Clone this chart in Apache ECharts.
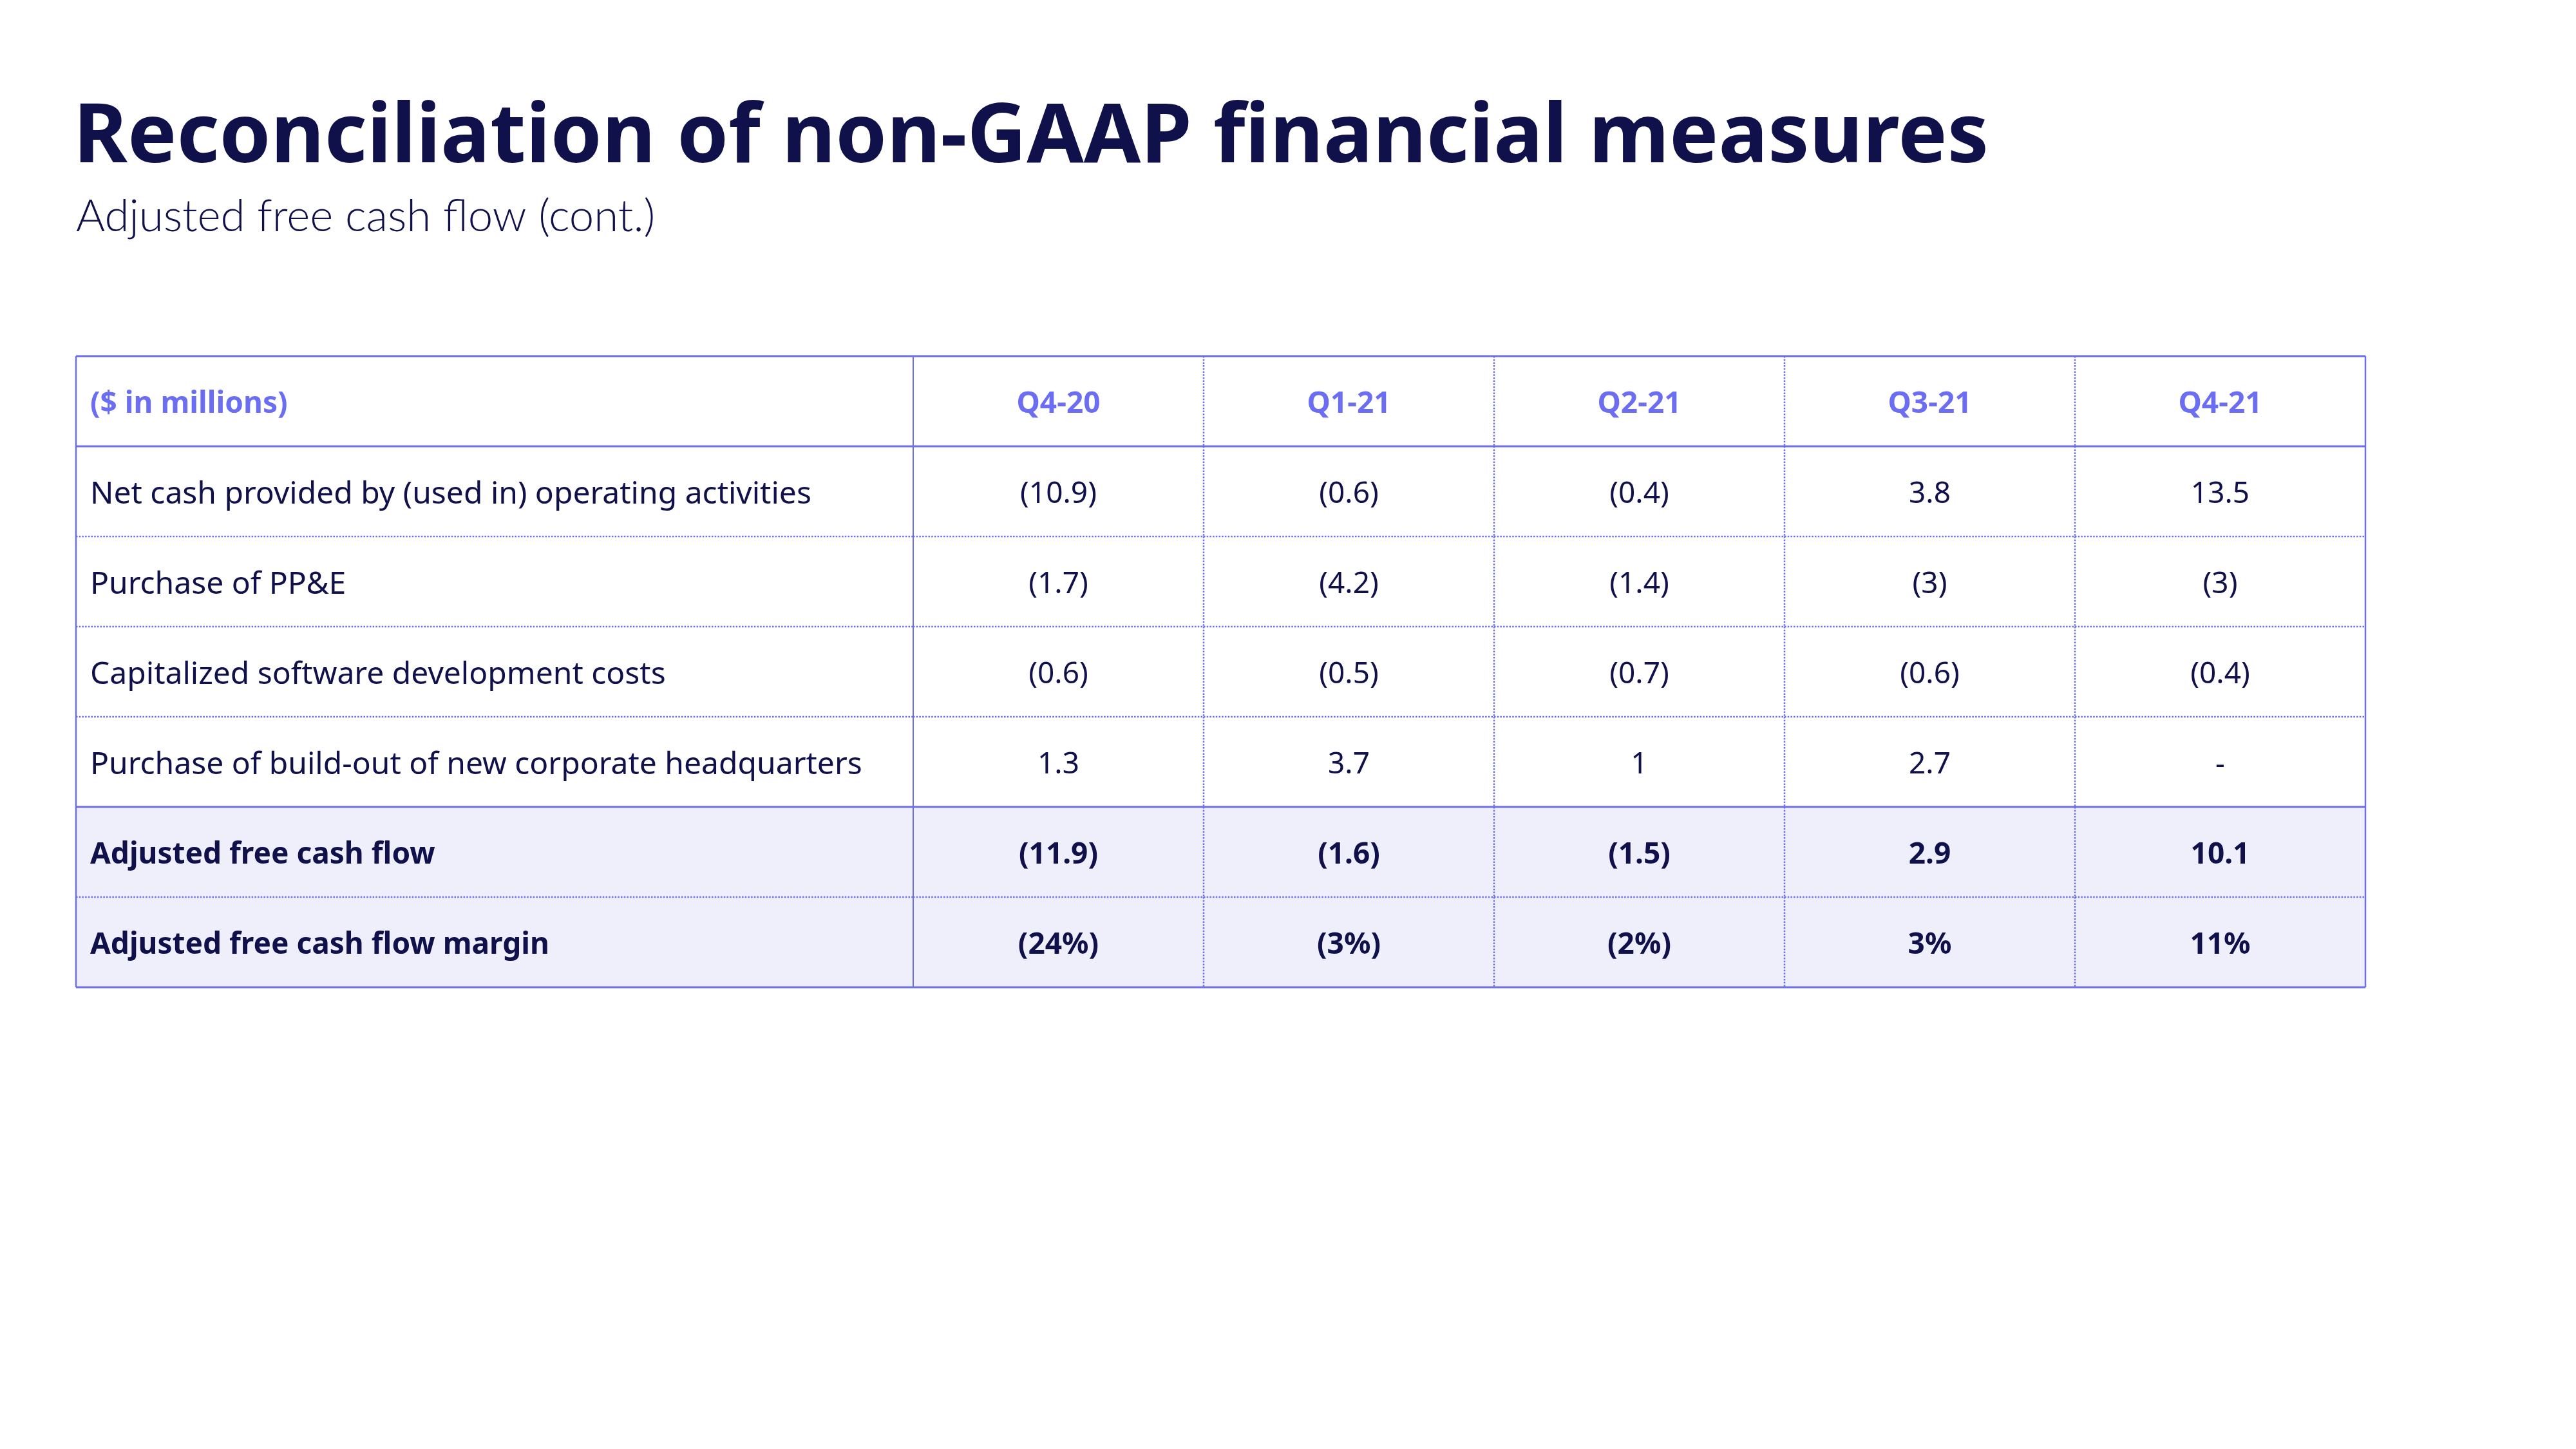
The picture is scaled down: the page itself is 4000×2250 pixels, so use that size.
<!DOCTYPE html>
<html>
<head>
<meta charset="utf-8">
<style>
  html, body { margin: 0; padding: 0; background: #ffffff; }
  #chart { width: 4000px; height: 2250px; }
</style>
<script src="https://cdn.jsdelivr.net/npm/echarts@6/dist/echarts.min.js"></script>
</head>
<body>
<div id="chart"></div>
<script>
// ---------------- data ----------------
const titleText = 'Reconciliation of non-GAAP financial measures';
const subtitleText = 'Adjusted free cash flow (cont.)';
const headerLabel = '($ in millions)';
const quarters = ['Q4-20', 'Q1-21', 'Q2-21', 'Q3-21', 'Q4-21'];
const rowLabels = [
  'Net cash provided by (used in) operating activities',
  'Purchase of PP&E',
  'Capitalized software development costs',
  'Purchase of build-out of new corporate headquarters',
  'Adjusted free cash flow',
  'Adjusted free cash flow margin'
];
const netCashOperating = [-10.9, -0.6, -0.4, 3.8, 13.5];
const purchasePPE = [-1.7, -4.2, -1.4, -3, -3];
const capSoftware = [-0.6, -0.5, -0.7, -0.6, -0.4];
const hqBuildOut = [1.3, 3.7, 1, 2.7, null];
const adjFreeCashFlow = [-11.9, -1.6, -1.5, 2.9, 10.1];
const adjFcfMarginPct = [-24, -3, -2, 3, 11];

// ---------------- styling ----------------
const NAVY = '#10104a';
const ACCENT = '#6c6fe8';
const ACCENT_TEXT = '#6b6ef2';
const HILITE = '#efeffc';
const FONT = '"Noto Sans"';
const BOLD_ROWS = [5, 6];
const THICK_BOTTOM = [0, 4, 6];

function fmt(v, suffix) {
  if (v === null || v === undefined) return '-';
  const a = String(Math.abs(v)) + suffix;
  return v < 0 ? '(' + a + ')' : a;
}

const rowSeries = [
  netCashOperating.map(v => fmt(v, '')),
  purchasePPE.map(v => fmt(v, '')),
  capSoftware.map(v => fmt(v, '')),
  hqBuildOut.map(v => fmt(v, '')),
  adjFreeCashFlow.map(v => fmt(v, '')),
  adjFcfMarginPct.map(v => fmt(v, '%'))
];

const rowKeys = ['header'].concat(rowLabels);

const labelData = [[0, 0, headerLabel]];
rowLabels.forEach((l, i) => labelData.push([0, i + 1, l]));

const valueData = [];
quarters.forEach((q, j) => valueData.push([j, 0, q]));
rowSeries.forEach((arr, i) => arr.forEach((t, j) => valueData.push([j, i + 1, t])));

function cellRect(api) {
  const c = api.coord([api.value(0), api.value(1)]);
  const s = api.size([1, 1]);
  return { x0: c[0] - s[0] / 2, y0: c[1] - s[1] / 2, x1: c[0] + s[0] / 2, y1: c[1] + s[1] / 2, cx: c[0], cy: c[1] };
}

function line(x1, y1, x2, y2, w, dotted) {
  return {
    type: 'line',
    shape: { x1: x1, y1: y1, x2: x2, y2: y2 },
    style: { stroke: ACCENT, lineWidth: w, lineDash: dotted ? [2.5, 2.2] : null, lineCap: 'butt' }
  };
}

function textStyleFor(row, isLabel) {
  if (row === 0) return { fill: ACCENT_TEXT, fontWeight: 'bold', fontSize: 46 };
  if (BOLD_ROWS.indexOf(row) >= 0) return { fill: NAVY, fontWeight: 'bold', fontSize: 46 };
  return { fill: NAVY, fontWeight: 'normal', fontSize: isLabel ? 48 : 46 };
}

function renderCells(isLabel) {
  return function (params, api) {
    const r = cellRect(api);
    const row = api.value(1);
    const txt = isLabel ? labelData[params.dataIndex][2] : valueData[params.dataIndex][2];
    const ts = textStyleFor(row, isLabel);
    const children = [];
    if (BOLD_ROWS.indexOf(row) >= 0) {
      children.push({
        type: 'rect',
        shape: { x: r.x0, y: r.y0, width: r.x1 - r.x0, height: r.y1 - r.y0 },
        style: { fill: HILITE }
      });
    }
    children.push({
      type: 'text',
      style: {
        text: txt,
        x: isLabel ? r.x0 + 22 : r.cx,
        y: r.cy + 5,
        textAlign: isLabel ? 'left' : 'center',
        textVerticalAlign: 'middle',
        fontFamily: FONT,
        fontSize: ts.fontSize,
        fontWeight: ts.fontWeight,
        fill: ts.fill
      }
    });
    return { type: 'group', children: children };
  };
}

function renderLines(isLabel) {
  return function (params, api) {
    const r = cellRect(api);
    const row = api.value(1);
    const col = api.value(0);
    const children = [];
    if (THICK_BOTTOM.indexOf(row) >= 0) children.push(line(r.x0, r.y1, r.x1, r.y1, 3, false));
    else children.push(line(r.x0, r.y1, r.x1, r.y1, 2.5, true));
    if (row === 0) children.push(line(r.x0, r.y0, r.x1, r.y0, 3, false));
    if (isLabel) {
      children.push(line(r.x0, r.y0, r.x0, r.y1, 2.5, false));
      children.push(line(r.x1, r.y0, r.x1, r.y1, 2, false));
    } else {
      if (col === quarters.length - 1) children.push(line(r.x1, r.y0, r.x1, r.y1, 2.5, false));
      else children.push(line(r.x1, r.y0, r.x1, r.y1, 2.5, true));
    }
    return { type: 'group', children: children };
  };
}

const chart = echarts.init(document.getElementById('chart'), null, { renderer: 'canvas' });

const TOP = 553, HEIGHT = 980;

chart.setOption({
  backgroundColor: '#ffffff',
  animation: false,
  graphic: [
    {
      type: 'text', left: 114, top: 152,
      style: { text: titleText, fontFamily: FONT, fontSize: 128, fontWeight: 'bold', fill: NAVY }
    },
    {
      type: 'text', left: 118, top: 302,
      style: { text: subtitleText, fontFamily: 'Lato', fontSize: 69, fontWeight: 300, fill: NAVY }
    }
  ],
  grid: [
    { left: 118, top: TOP, width: 1300, height: HEIGHT },
    { left: 1418, top: TOP, width: 2255, height: HEIGHT }
  ],
  xAxis: [
    { type: 'category', gridIndex: 0, data: ['label'], show: false },
    { type: 'category', gridIndex: 1, data: quarters, show: false }
  ],
  yAxis: [
    { type: 'category', gridIndex: 0, data: rowKeys, inverse: true, show: false },
    { type: 'category', gridIndex: 1, data: rowKeys, inverse: true, show: false }
  ],
  series: [
    { type: 'custom', xAxisIndex: 0, yAxisIndex: 0, z: 2, renderItem: renderCells(true), data: labelData.map(d => [d[0], d[1]]), silent: true },
    { type: 'custom', xAxisIndex: 1, yAxisIndex: 1, z: 2, renderItem: renderCells(false), data: valueData.map(d => [d[0], d[1]]), silent: true },
    { type: 'custom', xAxisIndex: 0, yAxisIndex: 0, z: 5, renderItem: renderLines(true), data: labelData.map(d => [d[0], d[1]]), silent: true },
    { type: 'custom', xAxisIndex: 1, yAxisIndex: 1, z: 5, renderItem: renderLines(false), data: valueData.map(d => [d[0], d[1]]), silent: true }
  ]
});
</script>
</body>
</html>
